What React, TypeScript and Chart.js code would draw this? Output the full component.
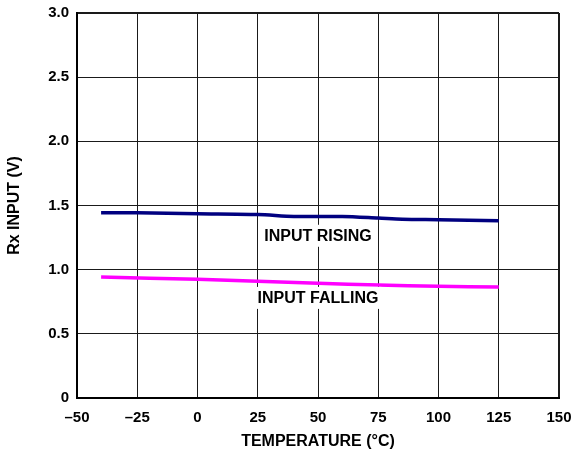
import React, { useEffect, useRef } from "react";
import { Chart, registerables } from "chart.js";

Chart.register(...registerables);

const risingTemps = [-40, -25, 0, 25, 40, 60, 75, 85, 100, 125];
const risingValues = [1.443, 1.443, 1.436, 1.43, 1.415, 1.414, 1.402, 1.393, 1.389, 1.381];
const fallingTemps = [-40, 0, 25, 50, 75, 100, 125];
const fallingValues = [0.942, 0.925, 0.91, 0.895, 0.88, 0.87, 0.864];
const xTicks = [-50, -25, 0, 25, 50, 75, 100, 125, 150];
const yTicks = [0, 0.5, 1.0, 1.5, 2.0, 2.5, 3.0];
const annotationTexts = ["INPUT RISING", "INPUT FALLING"];
const annotationX = [50, 50];
const annotationY = [1.264, 0.78];

const FONT = "'Liberation Sans', Arial, Helvetica, sans-serif";

const labelPlugin = {
  id: "inlineLabels",
  afterDatasetsDraw(chart: any) {
    const { ctx, scales } = chart;
    ctx.save();
    ctx.font = `bold 16px ${FONT}`;
    ctx.textAlign = "center";
    ctx.textBaseline = "middle";
    annotationTexts.forEach((t, i) => {
      const px = scales.x.getPixelForValue(annotationX[i]);
      const py = scales.y.getPixelForValue(annotationY[i]);
      const w = ctx.measureText(t).width;
      ctx.fillStyle = "#ffffff";
      ctx.fillRect(px - w / 2 - 3, py - 11, w + 6, 22);
      ctx.fillStyle = "#000000";
      ctx.fillText(t, px, py + 1);
    });
    ctx.restore();
  },
};

export default function App() {
  const ref = useRef<HTMLCanvasElement | null>(null);
  useEffect(() => {
    if (!ref.current) return;
    const chart = new Chart(ref.current, {
      type: "line",
      data: {
        datasets: [
          {
            label: "Input Rising",
            data: risingTemps.map((x, i) => ({ x, y: risingValues[i] })),
            borderColor: "#000080",
            borderWidth: 3.5,
            pointRadius: 0,
            tension: 0.3,
            fill: false,
          },
          {
            label: "Input Falling",
            data: fallingTemps.map((x, i) => ({ x, y: fallingValues[i] })),
            borderColor: "#ff00ff",
            borderWidth: 3.5,
            pointRadius: 0,
            tension: 0.3,
            fill: false,
          },
        ],
      },
      options: {
        animation: false,
        responsive: true,
        maintainAspectRatio: false,
        layout: { padding: { top: 13, right: 18, bottom: 0, left: 0 } },
        plugins: { legend: { display: false }, tooltip: { enabled: false } },
        scales: {
          x: {
            type: "linear",
            min: -50,
            max: 150,
            afterFit: (s: any) => {
              s.height = 56;
              s.paddingLeft = 0;
              s.paddingRight = 0;
            },
            afterBuildTicks: (s: any) => {
              s.ticks = xTicks.map((v) => ({ value: v }));
            },
            ticks: {
              padding: 11,
              color: "#000",
              font: { family: FONT, size: 15, weight: "bold" },
              maxRotation: 0,
              callback: (v: any) => (Number(v) < 0 ? "\u2013" + Math.abs(Number(v)) : String(v)),
            },
            grid: {
              color: "#1a1a1a",
              lineWidth: (c: any) => (c.tick && c.tick.value === 150 ? 2 : 1),
              drawTicks: false,
            },
            border: { color: "#000", width: 2 },
            title: {
              display: true,
              text: "TEMPERATURE (\u00b0C)",
              color: "#000",
              font: { family: FONT, size: 16, weight: "bold" },
              padding: { top: 0, bottom: 3 },
            },
          },
          y: {
            type: "linear",
            min: 0,
            max: 3,
            afterFit: (s: any) => {
              s.width = 77;
              s.paddingTop = 0;
              s.paddingBottom = 0;
            },
            afterBuildTicks: (s: any) => {
              s.ticks = yTicks.map((v) => ({ value: v }));
            },
            ticks: {
              padding: 8,
              color: "#000",
              font: { family: FONT, size: 15, weight: "bold" },
              callback: (v: any) => (Number(v) === 0 ? "0" : Number(v).toFixed(1)),
            },
            grid: {
              color: "#1a1a1a",
              lineWidth: (c: any) => (c.tick && c.tick.value === 3 ? 2 : 1),
              drawTicks: false,
            },
            border: { color: "#000", width: 2 },
            title: {
              display: true,
              text: "Rx INPUT (V)",
              color: "#000",
              font: { family: FONT, size: 16, weight: "bold" },
              padding: { top: 5, bottom: 0 },
            },
          },
        },
      },
      plugins: [labelPlugin],
    });
    return () => chart.destroy();
  }, []);
  return (
    <div style={{ position: "absolute", left: 0, top: 0, width: 577, height: 454, background: "#fff" }}>
      <canvas ref={ref} />
    </div>
  );
}
